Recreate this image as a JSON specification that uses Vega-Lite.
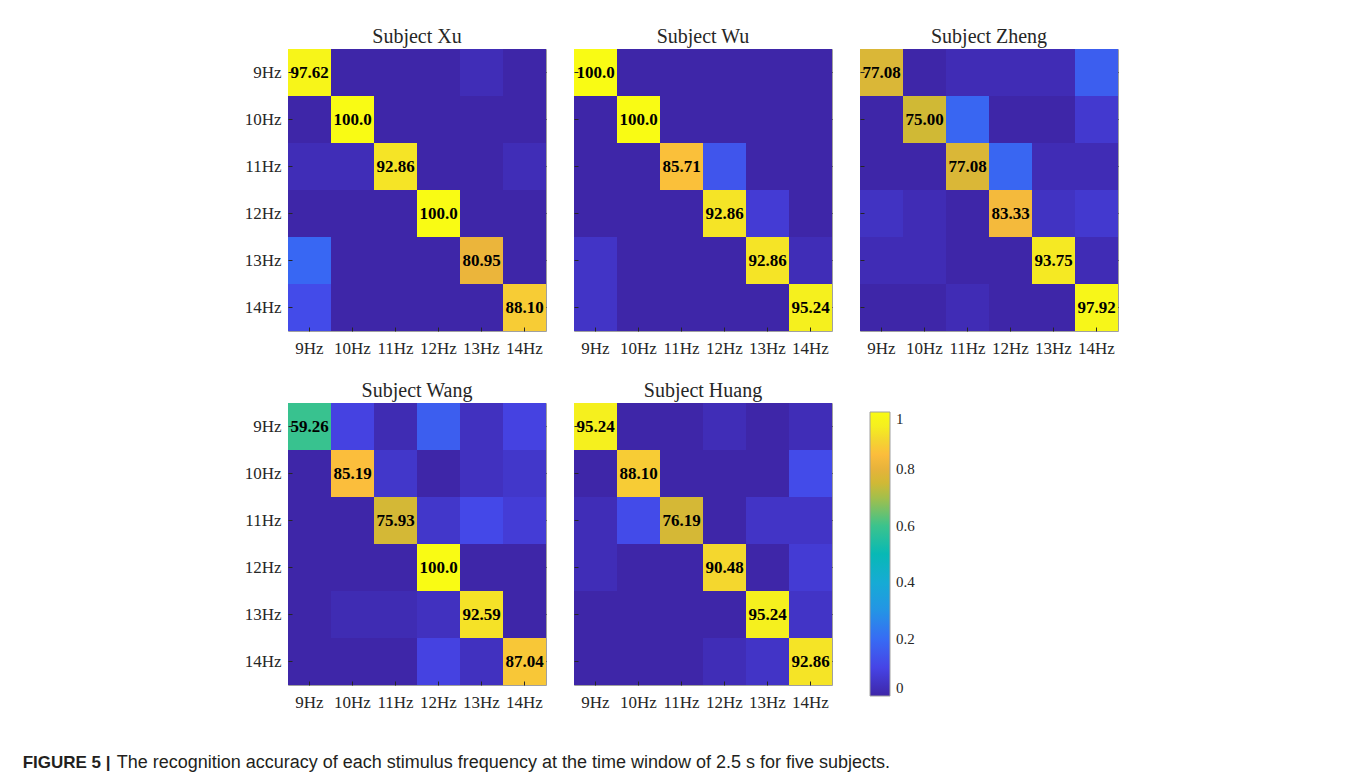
{
  "$schema": "https://vega.github.io/schema/vega-lite/v6.json",
  "padding": {"left": 22, "top": 26, "right": 10, "bottom": 8},
  "background": "white",
  "data": {"values": [
    {"s":"Xu","t":"9Hz","p":"9Hz","v":97.62},{"s":"Xu","t":"9Hz","p":"10Hz","v":0},{"s":"Xu","t":"9Hz","p":"11Hz","v":0},{"s":"Xu","t":"9Hz","p":"12Hz","v":0},{"s":"Xu","t":"9Hz","p":"13Hz","v":2.38},{"s":"Xu","t":"9Hz","p":"14Hz","v":0},
    {"s":"Xu","t":"10Hz","p":"9Hz","v":0},{"s":"Xu","t":"10Hz","p":"10Hz","v":100},{"s":"Xu","t":"10Hz","p":"11Hz","v":0},{"s":"Xu","t":"10Hz","p":"12Hz","v":0},{"s":"Xu","t":"10Hz","p":"13Hz","v":0},{"s":"Xu","t":"10Hz","p":"14Hz","v":0},
    {"s":"Xu","t":"11Hz","p":"9Hz","v":2.38},{"s":"Xu","t":"11Hz","p":"10Hz","v":2.38},{"s":"Xu","t":"11Hz","p":"11Hz","v":92.86},{"s":"Xu","t":"11Hz","p":"12Hz","v":0},{"s":"Xu","t":"11Hz","p":"13Hz","v":0},{"s":"Xu","t":"11Hz","p":"14Hz","v":2.38},
    {"s":"Xu","t":"12Hz","p":"9Hz","v":0},{"s":"Xu","t":"12Hz","p":"10Hz","v":0},{"s":"Xu","t":"12Hz","p":"11Hz","v":0},{"s":"Xu","t":"12Hz","p":"12Hz","v":100},{"s":"Xu","t":"12Hz","p":"13Hz","v":0},{"s":"Xu","t":"12Hz","p":"14Hz","v":0},
    {"s":"Xu","t":"13Hz","p":"9Hz","v":19.05},{"s":"Xu","t":"13Hz","p":"10Hz","v":0},{"s":"Xu","t":"13Hz","p":"11Hz","v":0},{"s":"Xu","t":"13Hz","p":"12Hz","v":0},{"s":"Xu","t":"13Hz","p":"13Hz","v":80.95},{"s":"Xu","t":"13Hz","p":"14Hz","v":0},
    {"s":"Xu","t":"14Hz","p":"9Hz","v":11.90},{"s":"Xu","t":"14Hz","p":"10Hz","v":0},{"s":"Xu","t":"14Hz","p":"11Hz","v":0},{"s":"Xu","t":"14Hz","p":"12Hz","v":0},{"s":"Xu","t":"14Hz","p":"13Hz","v":0},{"s":"Xu","t":"14Hz","p":"14Hz","v":88.10},

    {"s":"Wu","t":"9Hz","p":"9Hz","v":100},{"s":"Wu","t":"9Hz","p":"10Hz","v":0},{"s":"Wu","t":"9Hz","p":"11Hz","v":0},{"s":"Wu","t":"9Hz","p":"12Hz","v":0},{"s":"Wu","t":"9Hz","p":"13Hz","v":0},{"s":"Wu","t":"9Hz","p":"14Hz","v":0},
    {"s":"Wu","t":"10Hz","p":"9Hz","v":0},{"s":"Wu","t":"10Hz","p":"10Hz","v":100},{"s":"Wu","t":"10Hz","p":"11Hz","v":0},{"s":"Wu","t":"10Hz","p":"12Hz","v":0},{"s":"Wu","t":"10Hz","p":"13Hz","v":0},{"s":"Wu","t":"10Hz","p":"14Hz","v":0},
    {"s":"Wu","t":"11Hz","p":"9Hz","v":0},{"s":"Wu","t":"11Hz","p":"10Hz","v":0},{"s":"Wu","t":"11Hz","p":"11Hz","v":85.71},{"s":"Wu","t":"11Hz","p":"12Hz","v":14.29},{"s":"Wu","t":"11Hz","p":"13Hz","v":0},{"s":"Wu","t":"11Hz","p":"14Hz","v":0},
    {"s":"Wu","t":"12Hz","p":"9Hz","v":0},{"s":"Wu","t":"12Hz","p":"10Hz","v":0},{"s":"Wu","t":"12Hz","p":"11Hz","v":0},{"s":"Wu","t":"12Hz","p":"12Hz","v":92.86},{"s":"Wu","t":"12Hz","p":"13Hz","v":7.14},{"s":"Wu","t":"12Hz","p":"14Hz","v":0},
    {"s":"Wu","t":"13Hz","p":"9Hz","v":4.76},{"s":"Wu","t":"13Hz","p":"10Hz","v":0},{"s":"Wu","t":"13Hz","p":"11Hz","v":0},{"s":"Wu","t":"13Hz","p":"12Hz","v":0},{"s":"Wu","t":"13Hz","p":"13Hz","v":92.86},{"s":"Wu","t":"13Hz","p":"14Hz","v":2.38},
    {"s":"Wu","t":"14Hz","p":"9Hz","v":4.76},{"s":"Wu","t":"14Hz","p":"10Hz","v":0},{"s":"Wu","t":"14Hz","p":"11Hz","v":0},{"s":"Wu","t":"14Hz","p":"12Hz","v":0},{"s":"Wu","t":"14Hz","p":"13Hz","v":0},{"s":"Wu","t":"14Hz","p":"14Hz","v":95.24},

    {"s":"Zheng","t":"9Hz","p":"9Hz","v":77.08},{"s":"Zheng","t":"9Hz","p":"10Hz","v":0},{"s":"Zheng","t":"9Hz","p":"11Hz","v":2.08},{"s":"Zheng","t":"9Hz","p":"12Hz","v":2.08},{"s":"Zheng","t":"9Hz","p":"13Hz","v":2.08},{"s":"Zheng","t":"9Hz","p":"14Hz","v":16.67},
    {"s":"Zheng","t":"10Hz","p":"9Hz","v":0},{"s":"Zheng","t":"10Hz","p":"10Hz","v":75.00},{"s":"Zheng","t":"10Hz","p":"11Hz","v":18.75},{"s":"Zheng","t":"10Hz","p":"12Hz","v":0},{"s":"Zheng","t":"10Hz","p":"13Hz","v":0},{"s":"Zheng","t":"10Hz","p":"14Hz","v":6.25},
    {"s":"Zheng","t":"11Hz","p":"9Hz","v":0},{"s":"Zheng","t":"11Hz","p":"10Hz","v":0},{"s":"Zheng","t":"11Hz","p":"11Hz","v":77.08},{"s":"Zheng","t":"11Hz","p":"12Hz","v":18.75},{"s":"Zheng","t":"11Hz","p":"13Hz","v":2.08},{"s":"Zheng","t":"11Hz","p":"14Hz","v":2.08},
    {"s":"Zheng","t":"12Hz","p":"9Hz","v":4.17},{"s":"Zheng","t":"12Hz","p":"10Hz","v":2.08},{"s":"Zheng","t":"12Hz","p":"11Hz","v":0},{"s":"Zheng","t":"12Hz","p":"12Hz","v":83.33},{"s":"Zheng","t":"12Hz","p":"13Hz","v":4.17},{"s":"Zheng","t":"12Hz","p":"14Hz","v":6.25},
    {"s":"Zheng","t":"13Hz","p":"9Hz","v":2.08},{"s":"Zheng","t":"13Hz","p":"10Hz","v":2.08},{"s":"Zheng","t":"13Hz","p":"11Hz","v":0},{"s":"Zheng","t":"13Hz","p":"12Hz","v":0},{"s":"Zheng","t":"13Hz","p":"13Hz","v":93.75},{"s":"Zheng","t":"13Hz","p":"14Hz","v":2.08},
    {"s":"Zheng","t":"14Hz","p":"9Hz","v":0},{"s":"Zheng","t":"14Hz","p":"10Hz","v":0},{"s":"Zheng","t":"14Hz","p":"11Hz","v":2.08},{"s":"Zheng","t":"14Hz","p":"12Hz","v":0},{"s":"Zheng","t":"14Hz","p":"13Hz","v":0},{"s":"Zheng","t":"14Hz","p":"14Hz","v":97.92},

    {"s":"Wang","t":"9Hz","p":"9Hz","v":59.26},{"s":"Wang","t":"9Hz","p":"10Hz","v":9.26},{"s":"Wang","t":"9Hz","p":"11Hz","v":1.85},{"s":"Wang","t":"9Hz","p":"12Hz","v":16.67},{"s":"Wang","t":"9Hz","p":"13Hz","v":3.70},{"s":"Wang","t":"9Hz","p":"14Hz","v":9.26},
    {"s":"Wang","t":"10Hz","p":"9Hz","v":0},{"s":"Wang","t":"10Hz","p":"10Hz","v":85.19},{"s":"Wang","t":"10Hz","p":"11Hz","v":5.56},{"s":"Wang","t":"10Hz","p":"12Hz","v":0},{"s":"Wang","t":"10Hz","p":"13Hz","v":3.70},{"s":"Wang","t":"10Hz","p":"14Hz","v":5.56},
    {"s":"Wang","t":"11Hz","p":"9Hz","v":0},{"s":"Wang","t":"11Hz","p":"10Hz","v":0},{"s":"Wang","t":"11Hz","p":"11Hz","v":75.93},{"s":"Wang","t":"11Hz","p":"12Hz","v":5.56},{"s":"Wang","t":"11Hz","p":"13Hz","v":11.11},{"s":"Wang","t":"11Hz","p":"14Hz","v":7.41},
    {"s":"Wang","t":"12Hz","p":"9Hz","v":0},{"s":"Wang","t":"12Hz","p":"10Hz","v":0},{"s":"Wang","t":"12Hz","p":"11Hz","v":0},{"s":"Wang","t":"12Hz","p":"12Hz","v":100},{"s":"Wang","t":"12Hz","p":"13Hz","v":0},{"s":"Wang","t":"12Hz","p":"14Hz","v":0},
    {"s":"Wang","t":"13Hz","p":"9Hz","v":0},{"s":"Wang","t":"13Hz","p":"10Hz","v":1.85},{"s":"Wang","t":"13Hz","p":"11Hz","v":1.85},{"s":"Wang","t":"13Hz","p":"12Hz","v":3.70},{"s":"Wang","t":"13Hz","p":"13Hz","v":92.59},{"s":"Wang","t":"13Hz","p":"14Hz","v":0},
    {"s":"Wang","t":"14Hz","p":"9Hz","v":0},{"s":"Wang","t":"14Hz","p":"10Hz","v":0},{"s":"Wang","t":"14Hz","p":"11Hz","v":0},{"s":"Wang","t":"14Hz","p":"12Hz","v":9.26},{"s":"Wang","t":"14Hz","p":"13Hz","v":3.70},{"s":"Wang","t":"14Hz","p":"14Hz","v":87.04},

    {"s":"Huang","t":"9Hz","p":"9Hz","v":95.24},{"s":"Huang","t":"9Hz","p":"10Hz","v":0},{"s":"Huang","t":"9Hz","p":"11Hz","v":0},{"s":"Huang","t":"9Hz","p":"12Hz","v":2.38},{"s":"Huang","t":"9Hz","p":"13Hz","v":0},{"s":"Huang","t":"9Hz","p":"14Hz","v":2.38},
    {"s":"Huang","t":"10Hz","p":"9Hz","v":0},{"s":"Huang","t":"10Hz","p":"10Hz","v":88.10},{"s":"Huang","t":"10Hz","p":"11Hz","v":0},{"s":"Huang","t":"10Hz","p":"12Hz","v":0},{"s":"Huang","t":"10Hz","p":"13Hz","v":0},{"s":"Huang","t":"10Hz","p":"14Hz","v":11.90},
    {"s":"Huang","t":"11Hz","p":"9Hz","v":2.38},{"s":"Huang","t":"11Hz","p":"10Hz","v":11.90},{"s":"Huang","t":"11Hz","p":"11Hz","v":76.19},{"s":"Huang","t":"11Hz","p":"12Hz","v":0},{"s":"Huang","t":"11Hz","p":"13Hz","v":4.76},{"s":"Huang","t":"11Hz","p":"14Hz","v":4.76},
    {"s":"Huang","t":"12Hz","p":"9Hz","v":2.38},{"s":"Huang","t":"12Hz","p":"10Hz","v":0},{"s":"Huang","t":"12Hz","p":"11Hz","v":0},{"s":"Huang","t":"12Hz","p":"12Hz","v":90.48},{"s":"Huang","t":"12Hz","p":"13Hz","v":0},{"s":"Huang","t":"12Hz","p":"14Hz","v":7.14},
    {"s":"Huang","t":"13Hz","p":"9Hz","v":0},{"s":"Huang","t":"13Hz","p":"10Hz","v":0},{"s":"Huang","t":"13Hz","p":"11Hz","v":0},{"s":"Huang","t":"13Hz","p":"12Hz","v":0},{"s":"Huang","t":"13Hz","p":"13Hz","v":95.24},{"s":"Huang","t":"13Hz","p":"14Hz","v":4.76},
    {"s":"Huang","t":"14Hz","p":"9Hz","v":0},{"s":"Huang","t":"14Hz","p":"10Hz","v":0},{"s":"Huang","t":"14Hz","p":"11Hz","v":0},{"s":"Huang","t":"14Hz","p":"12Hz","v":2.38},{"s":"Huang","t":"14Hz","p":"13Hz","v":4.76},{"s":"Huang","t":"14Hz","p":"14Hz","v":92.86}
  ]},
  "title": {
    "text": "The recognition accuracy of each stimulus frequency at the time window of 2.5 s for five subjects.",
    "orient": "bottom", "anchor": "start", "font": "Liberation Sans", "fontSize": 18, "fontWeight": "normal",
    "color": "#231f20", "offset": -17, "dx": 94
  },
  "resolve": {"legend": {"color": "independent"}},
  "spacing": 23,
  "vconcat": [
    {
      "spacing": 26,
      "hconcat": [
        {
          "title": "Subject Xu", "width": 258, "height": 282,
          "transform": [{"filter": "datum.s === 'Xu'"}],
          "layer": [
            {"mark": {"type": "rect"},
             "encoding": {
               "x": {"field": "p", "type": "nominal", "title": null, "scale": {"domain": ["9Hz","10Hz","11Hz","12Hz","13Hz","14Hz"]}, "axis": {"orient": "bottom", "labelAngle": 0}},
               "y": {"field": "t", "type": "nominal", "title": null, "scale": {"domain": ["9Hz","10Hz","11Hz","12Hz","13Hz","14Hz"]}, "axis": {"orient": "left"}},
               "color": {"field": "v", "type": "quantitative", "legend": null,
                 "scale": {"domain": [0,10,20,30,40,50,60,70,75,80,85,90,95,100], "range": ["#3e26a8","#4644e6","#376bf4","#2494e5","#16abd4","#07b9b5","#3cc38c","#a5bf4a","#d0b935","#e7b33b","#fbbd3c","#f4d530","#f5ef1f","#f9fb14"], "interpolate": "rgb"}}
             }},
            {"transform": [{"filter": "datum.t === datum.p"}],
             "mark": {"type": "text", "font": "Liberation Serif", "fontWeight": "bold", "fontSize": 17, "color": "#000000"},
             "encoding": {
               "x": {"field": "p", "type": "nominal", "title": null, "axis": {"orient": "top", "labels": false}},
               "y": {"field": "t", "type": "nominal", "title": null, "axis": {"orient": "right", "labels": false}},
               "text": {"field": "v", "type": "quantitative", "format": ".4r"}
             }}
          ],
          "resolve": {"axis": {"x": "independent", "y": "independent"}}
        },
        {
          "title": "Subject Wu", "width": 258, "height": 282,
          "transform": [{"filter": "datum.s === 'Wu'"}],
          "layer": [
            {"mark": {"type": "rect"},
             "encoding": {
               "x": {"field": "p", "type": "nominal", "title": null, "scale": {"domain": ["9Hz","10Hz","11Hz","12Hz","13Hz","14Hz"]}, "axis": {"orient": "bottom", "labelAngle": 0}},
               "y": {"field": "t", "type": "nominal", "title": null, "scale": {"domain": ["9Hz","10Hz","11Hz","12Hz","13Hz","14Hz"]}, "axis": {"orient": "left", "labels": false}},
               "color": {"field": "v", "type": "quantitative", "legend": null,
                 "scale": {"domain": [0,10,20,30,40,50,60,70,75,80,85,90,95,100], "range": ["#3e26a8","#4644e6","#376bf4","#2494e5","#16abd4","#07b9b5","#3cc38c","#a5bf4a","#d0b935","#e7b33b","#fbbd3c","#f4d530","#f5ef1f","#f9fb14"], "interpolate": "rgb"}}
             }},
            {"transform": [{"filter": "datum.t === datum.p"}],
             "mark": {"type": "text", "font": "Liberation Serif", "fontWeight": "bold", "fontSize": 17, "color": "#000000"},
             "encoding": {
               "x": {"field": "p", "type": "nominal", "title": null, "axis": {"orient": "top", "labels": false}},
               "y": {"field": "t", "type": "nominal", "title": null, "axis": {"orient": "right", "labels": false}},
               "text": {"field": "v", "type": "quantitative", "format": ".4r"}
             }}
          ],
          "resolve": {"axis": {"x": "independent", "y": "independent"}}
        },
        {
          "title": "Subject Zheng", "width": 258, "height": 282,
          "transform": [{"filter": "datum.s === 'Zheng'"}],
          "layer": [
            {"mark": {"type": "rect"},
             "encoding": {
               "x": {"field": "p", "type": "nominal", "title": null, "scale": {"domain": ["9Hz","10Hz","11Hz","12Hz","13Hz","14Hz"]}, "axis": {"orient": "bottom", "labelAngle": 0}},
               "y": {"field": "t", "type": "nominal", "title": null, "scale": {"domain": ["9Hz","10Hz","11Hz","12Hz","13Hz","14Hz"]}, "axis": {"orient": "left", "labels": false}},
               "color": {"field": "v", "type": "quantitative", "legend": null,
                 "scale": {"domain": [0,10,20,30,40,50,60,70,75,80,85,90,95,100], "range": ["#3e26a8","#4644e6","#376bf4","#2494e5","#16abd4","#07b9b5","#3cc38c","#a5bf4a","#d0b935","#e7b33b","#fbbd3c","#f4d530","#f5ef1f","#f9fb14"], "interpolate": "rgb"}}
             }},
            {"transform": [{"filter": "datum.t === datum.p"}],
             "mark": {"type": "text", "font": "Liberation Serif", "fontWeight": "bold", "fontSize": 17, "color": "#000000"},
             "encoding": {
               "x": {"field": "p", "type": "nominal", "title": null, "axis": {"orient": "top", "labels": false}},
               "y": {"field": "t", "type": "nominal", "title": null, "axis": {"orient": "right", "labels": false}},
               "text": {"field": "v", "type": "quantitative", "format": ".4r"}
             }}
          ],
          "resolve": {"axis": {"x": "independent", "y": "independent"}}
        }
      ]
    },
    {
      "spacing": 26,
      "title": {"text": "FIGURE 5 |", "orient": "bottom", "anchor": "start", "font": "Liberation Sans", "fontSize": 17,
                "fontWeight": "bold", "color": "#231f20", "offset": 44, "dx": -221},
      "resolve": {"legend": {"color": "independent"}},
      "hconcat": [
        {
          "title": "Subject Wang", "width": 258, "height": 282,
          "transform": [{"filter": "datum.s === 'Wang'"}],
          "layer": [
            {"mark": {"type": "rect"},
             "encoding": {
               "x": {"field": "p", "type": "nominal", "title": null, "scale": {"domain": ["9Hz","10Hz","11Hz","12Hz","13Hz","14Hz"]}, "axis": {"orient": "bottom", "labelAngle": 0}},
               "y": {"field": "t", "type": "nominal", "title": null, "scale": {"domain": ["9Hz","10Hz","11Hz","12Hz","13Hz","14Hz"]}, "axis": {"orient": "left"}},
               "color": {"field": "v", "type": "quantitative", "legend": null,
                 "scale": {"domain": [0,10,20,30,40,50,60,70,75,80,85,90,95,100], "range": ["#3e26a8","#4644e6","#376bf4","#2494e5","#16abd4","#07b9b5","#3cc38c","#a5bf4a","#d0b935","#e7b33b","#fbbd3c","#f4d530","#f5ef1f","#f9fb14"], "interpolate": "rgb"}}
             }},
            {"transform": [{"filter": "datum.t === datum.p"}],
             "mark": {"type": "text", "font": "Liberation Serif", "fontWeight": "bold", "fontSize": 17, "color": "#000000"},
             "encoding": {
               "x": {"field": "p", "type": "nominal", "title": null, "axis": {"orient": "top", "labels": false}},
               "y": {"field": "t", "type": "nominal", "title": null, "axis": {"orient": "right", "labels": false}},
               "text": {"field": "v", "type": "quantitative", "format": ".4r"}
             }}
          ],
          "resolve": {"axis": {"x": "independent", "y": "independent"}}
        },
        {
          "title": "Subject Huang", "width": 258, "height": 282,
          "transform": [{"filter": "datum.s === 'Huang'"}],
          "layer": [
            {"mark": {"type": "rect"},
             "encoding": {
               "x": {"field": "p", "type": "nominal", "title": null, "scale": {"domain": ["9Hz","10Hz","11Hz","12Hz","13Hz","14Hz"]}, "axis": {"orient": "bottom", "labelAngle": 0}},
               "y": {"field": "t", "type": "nominal", "title": null, "scale": {"domain": ["9Hz","10Hz","11Hz","12Hz","13Hz","14Hz"]}, "axis": {"orient": "left", "labels": false}},
               "color": {"field": "v", "type": "quantitative",
                 "scale": {"domain": [0,10,20,30,40,50,60,70,75,80,85,90,95,100], "range": ["#3e26a8","#4644e6","#376bf4","#2494e5","#16abd4","#07b9b5","#3cc38c","#a5bf4a","#d0b935","#e7b33b","#fbbd3c","#f4d530","#f5ef1f","#f9fb14"], "interpolate": "rgb"},
                 "legend": {"orient": "none", "legendX": 296, "legendY": 9, "direction": "vertical", "title": null,
                   "gradientLength": 284, "gradientThickness": 20, "values": [0,20,40,60,80,100],
                   "labelExpr": "format(datum.value/100, '')", "labelFont": "Liberation Serif", "labelFontSize": 15,
                   "labelColor": "#262626", "labelOffset": 6, "gradientStrokeColor": "#a0a0a0", "gradientStrokeWidth": 1}}
             }},
            {"transform": [{"filter": "datum.t === datum.p"}],
             "mark": {"type": "text", "font": "Liberation Serif", "fontWeight": "bold", "fontSize": 17, "color": "#000000"},
             "encoding": {
               "x": {"field": "p", "type": "nominal", "title": null, "axis": {"orient": "top", "labels": false}},
               "y": {"field": "t", "type": "nominal", "title": null, "axis": {"orient": "right", "labels": false}},
               "text": {"field": "v", "type": "quantitative", "format": ".4r"}
             }}
          ],
          "resolve": {"axis": {"x": "independent", "y": "independent"}}
        }
      ]
    }
  ],
  "config": {
    "view": {"stroke": "#a0a0a0", "strokeWidth": 1},
    "scale": {"bandPaddingInner": 0, "bandPaddingOuter": 0},
    "axis": {"labelFont": "Liberation Serif", "labelFontSize": 17, "labelColor": "#262626", "domain": false, "grid": false,
             "ticks": true, "tickSize": -4, "tickColor": "#262626"},
    "axisX": {"labelPadding": 13},
    "axisY": {"labelPadding": 11},
    "title": {"font": "Liberation Serif", "fontSize": 20, "fontWeight": "normal", "color": "#262626", "offset": 2}
  }
}
